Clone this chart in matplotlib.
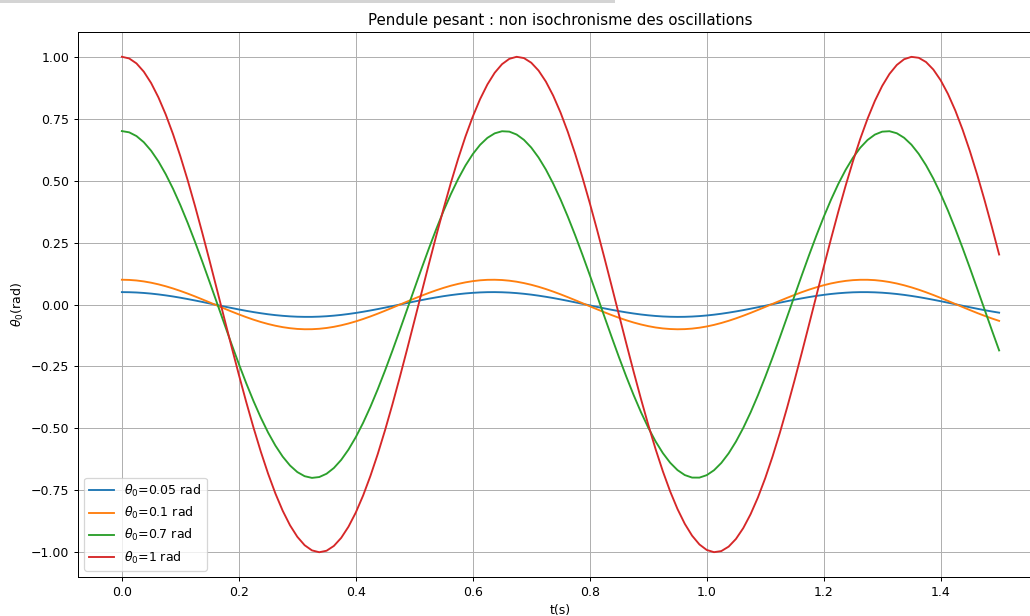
import numpy as np
import matplotlib
matplotlib.use("Agg")
import matplotlib.pyplot as plt
from matplotlib.patches import Rectangle

# time samples (s), read every 0.0125 s from 0 to 1.5
t = np.arange(121) * 0.0125

theta_005 = [0.0500, 0.0496, 0.0485, 0.0466, 0.0440, 0.0407, 0.0368, 0.0324, 0.0274, 0.0220,
             0.0163, 0.0104, 0.0042, -0.0019, -0.0081, -0.0141, -0.0200, -0.0255, -0.0306, -0.0352,
             -0.0394, -0.0429, -0.0457, -0.0479, -0.0493, -0.0499, -0.0499, -0.0490, -0.0474, -0.0450,
             -0.0420, -0.0383, -0.0341, -0.0293, -0.0241, -0.0185, -0.0126, -0.0065, -0.0004, 0.0058,
             0.0119, 0.0178, 0.0235, 0.0287, 0.0336, 0.0379, 0.0416, 0.0447, 0.0471, 0.0488,
             0.0498, 0.0500, 0.0494, 0.0481, 0.0460, 0.0432, 0.0398, 0.0357, 0.0311, 0.0261,
             0.0206, 0.0148, 0.0088, 0.0027, -0.0035, -0.0097, -0.0157, -0.0214, -0.0268, -0.0318,
             -0.0363, -0.0403, -0.0436, -0.0463, -0.0483, -0.0495, -0.0500, -0.0497, -0.0486, -0.0468,
             -0.0443, -0.0411, -0.0373, -0.0329, -0.0280, -0.0227, -0.0170, -0.0111, -0.0050, 0.0012,
             0.0074, 0.0134, 0.0193, 0.0248, 0.0300, 0.0347, 0.0389, 0.0425, 0.0454, 0.0476,
             0.0492, 0.0499, 0.0499, 0.0491, 0.0476, 0.0453, 0.0424, 0.0388, 0.0346, 0.0299,
             0.0247, 0.0191, 0.0133, 0.0072, 0.0011, -0.0051, -0.0112, -0.0171, -0.0228, -0.0281,
             -0.0330]

theta_01 = [0.1000, 0.0992, 0.0970, 0.0932, 0.0880, 0.0814, 0.0736, 0.0647, 0.0548, 0.0441,
            0.0327, 0.0207, 0.0085, -0.0039, -0.0162, -0.0283, -0.0399, -0.0509, -0.0612, -0.0705,
            -0.0787, -0.0857, -0.0914, -0.0957, -0.0986, -0.0999, -0.0997, -0.0980, -0.0948, -0.0901,
            -0.0840, -0.0767, -0.0682, -0.0586, -0.0482, -0.0370, -0.0252, -0.0131, -0.0007, 0.0116,
            0.0238, 0.0356, 0.0469, 0.0574, 0.0671, 0.0758, 0.0832, 0.0894, 0.0943, 0.0977,
            0.0996, 0.0999, 0.0988, 0.0961, 0.0920, 0.0864, 0.0796, 0.0715, 0.0623, 0.0521,
            0.0412, 0.0296, 0.0176, 0.0053, -0.0071, -0.0193, -0.0313, -0.0428, -0.0536, -0.0636,
            -0.0727, -0.0806, -0.0873, -0.0927, -0.0966, -0.0990, -0.1000, -0.0994, -0.0973, -0.0937,
            -0.0887, -0.0823, -0.0746, -0.0658, -0.0560, -0.0453, -0.0340, -0.0221, -0.0099, 0.0025,
            0.0148, 0.0269, 0.0386, 0.0497, 0.0600, 0.0694, 0.0778, 0.0850, 0.0908, 0.0953,
            0.0983, 0.0998, 0.0998, 0.0983, 0.0952, 0.0907, 0.0848, 0.0776, 0.0692, 0.0598,
            0.0494, 0.0383, 0.0266, 0.0145, 0.0021, -0.0102, -0.0224, -0.0343, -0.0456, -0.0563,
            -0.0661]

theta_07 = [0.7000, 0.6950, 0.6799, 0.6551, 0.6208, 0.5777, 0.5261, 0.4671, 0.4012, 0.3297,
            0.2533, 0.1734, 0.0909, 0.0072, -0.0767, -0.1595, -0.2400, -0.3170, -0.3894, -0.4563,
            -0.5167, -0.5695, -0.6141, -0.6499, -0.6764, -0.6931, -0.6999, -0.6965, -0.6832, -0.6600,
            -0.6273, -0.5856, -0.5354, -0.4776, -0.4129, -0.3423, -0.2666, -0.1872, -0.1051, -0.0215,
            0.0624, 0.1455, 0.2265, 0.3042, 0.3775, 0.4453, 0.5068, 0.5610, 0.6071, 0.6445,
            0.6726, 0.6909, 0.6994, 0.6978, 0.6861, 0.6646, 0.6335, 0.5933, 0.5447, 0.4880,
            0.4245, 0.3547, 0.2799, 0.2010, 0.1193, 0.0358, -0.0482, -0.1315, -0.2129, -0.2912,
            -0.3653, -0.4342, -0.4967, -0.5523, -0.5998, -0.6387, -0.6684, -0.6885, -0.6987, -0.6988,
            -0.6889, -0.6690, -0.6395, -0.6008, -0.5534, -0.4982, -0.4358, -0.3669, -0.2929, -0.2147,
            -0.1334, -0.0501, 0.0339, 0.1174, 0.1992, 0.2781, 0.3531, 0.4229, 0.4866, 0.5434,
            0.5923, 0.6328, 0.6640, 0.6858, 0.6977, 0.6995, 0.6913, 0.6731, 0.6452, 0.6080,
            0.5620, 0.5081, 0.4468, 0.3791, 0.3058, 0.2282, 0.1474, 0.0643, -0.0196, -0.1033,
            -0.1854]

theta_1 = [1.0000, 0.9933, 0.9732, 0.9399, 0.8941, 0.8361, 0.7670, 0.6875, 0.5986, 0.5019,
           0.3983, 0.2893, 0.1765, 0.0612, -0.0548, -0.1701, -0.2831, -0.3924, -0.4963, -0.5935,
           -0.6827, -0.7628, -0.8326, -0.8912, -0.9377, -0.9717, -0.9925, -1.0000, -0.9940, -0.9746,
           -0.9421, -0.8969, -0.8397, -0.7711, -0.6920, -0.6038, -0.5074, -0.4042, -0.2955, -0.1828,
           -0.0677, 0.0484, 0.1638, 0.2770, 0.3864, 0.4907, 0.5884, 0.6781, 0.7584, 0.8290,
           0.8882, 0.9355, 0.9701, 0.9917, 0.9999, 0.9947, 0.9760, 0.9443, 0.8998, 0.8431,
           0.7752, 0.6968, 0.6089, 0.5130, 0.4100, 0.3016, 0.1891, 0.0741, -0.0419, -0.1574,
           -0.2708, -0.3805, -0.4851, -0.5831, -0.6733, -0.7544, -0.8254, -0.8853, -0.9332, -0.9685,
           -0.9908, -0.9998, -0.9953, -0.9774, -0.9464, -0.9026, -0.8466, -0.7792, -0.7014, -0.6141,
           -0.5185, -0.4159, -0.3078, -0.1955, -0.0805, 0.0355, 0.1511, 0.2646, 0.3746, 0.4794,
           0.5779, 0.6685, 0.7500, 0.8217, 0.8822, 0.9308, 0.9669, 0.9900, 0.9997, 0.9959,
           0.9788, 0.9484, 0.9053, 0.8500, 0.7833, 0.7059, 0.6191, 0.5240, 0.4217, 0.3139,
           0.2018]

labels = [r'$\theta_0$=0.05 rad', r'$\theta_0$=0.1 rad', r'$\theta_0$=0.7 rad', r'$\theta_0$=1 rad']

# rendered at 90 dpi so text and lines come out at the reference's scale
fig = plt.figure(figsize=(1030/90, 616/90), dpi=90)
fig.patches.append(Rectangle((0, 1 - 3/616), 615/1030, 3/616, transform=fig.transFigure,
                             facecolor='#d4d4d4', edgecolor='none'))
ax = fig.add_axes([78/1030, 39/616, 965/1030, 545/616])

for y, lab in zip([theta_005, theta_01, theta_07, theta_1], labels):
    ax.plot(t, y, label=lab)

ax.set_xlim(-0.075, 1.575)
ax.set_ylim(-1.1, 1.1)
ax.set_yticks([-1.0, -0.75, -0.5, -0.25, 0.0, 0.25, 0.5, 0.75, 1.0])
ax.grid(True)
ax.set_title('Pendule pesant : non isochronisme des oscillations')
ax.set_xlabel('t(s)')
ax.set_ylabel(r'$\theta_0$(rad)')
ax.legend(loc='lower left')

plt.savefig('out.png', dpi=90)
